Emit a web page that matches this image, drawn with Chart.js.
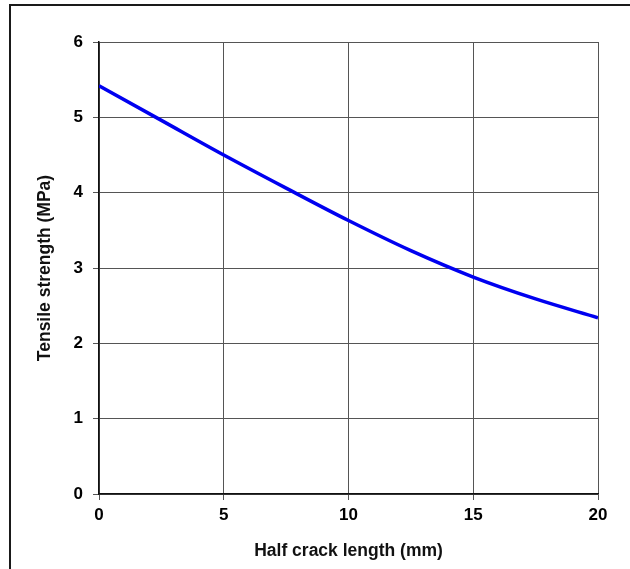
<!DOCTYPE html>
<html>
<head>
<meta charset="utf-8">
<script src="https://cdn.jsdelivr.net/npm/chart.js@4/dist/chart.umd.min.js"></script>
<style>
  html, body { margin: 0; padding: 0; background: #fff; width: 630px; height: 569px; overflow: hidden; }
  #frame { position: absolute; left: 9px; top: 4px; width: 700px; height: 700px;
           border-top: 2px solid #1a1a1a; border-left: 2px solid #1a1a1a; box-sizing: border-box; }
  #wrap { position: absolute; left: 0; top: 0; width: 630px; height: 569px; }
</style>
</head>
<body>
<div id="frame"></div>
<div id="wrap"><canvas id="c" width="630" height="569"></canvas></div>
<script>
// Half crack length (mm)
const crackLength = [0, 2.5, 5, 7.5, 10, 12.5, 15, 17.5, 20];
// Tensile strength (MPa)
const tensileStrength = [5.42, 4.96, 4.50, 4.06, 3.63, 3.23, 2.88, 2.59, 2.34];
const xTicks = [0, 5, 10, 15, 20];
const yTicks = [0, 1, 2, 3, 4, 5, 6];
const xTitle = 'Half crack length (mm)';
const yTitle = 'Tensile strength (MPa)';

const points = crackLength.map((x, i) => ({ x: x, y: tensileStrength[i] }));
const FONT = "'Liberation Sans', Arial, sans-serif";

new Chart(document.getElementById('c'), {
  type: 'line',
  data: {
    datasets: [{
      data: points,
      borderColor: '#0000f0',
      borderWidth: 3.5,
      pointRadius: 0,
      cubicInterpolationMode: 'monotone',
      fill: false
    }]
  },
  options: {
    responsive: false,
    animation: false,
    devicePixelRatio: 1,
    layout: { padding: { left: 0, top: 42, right: 32, bottom: 0 } },
    plugins: { legend: { display: false }, tooltip: { enabled: false } },
    scales: {
      x: {
        type: 'linear', min: 0, max: 20,
        afterBuildTicks: (s) => { s.ticks = xTicks.map(v => ({ value: v })); },
        afterFit: (s) => { s.height = 75; },
        grid: { color: '#555', lineWidth: 1, tickLength: 6, tickColor: '#555' },
        border: { color: '#111', width: 1.5 },
        ticks: { color: '#000', padding: 5, font: { family: FONT, size: 17, weight: 'bold' } },
        title: { display: true, text: xTitle, color: '#111', padding: { top: 0, bottom: 7 },
                 font: { family: FONT, size: 17.5, weight: 'bold' } }
      },
      y: {
        type: 'linear', min: 0, max: 6,
        afterBuildTicks: (s) => { s.ticks = yTicks.map(v => ({ value: v })); },
        afterFit: (s) => { s.width = 99; },
        grid: { color: '#555', lineWidth: 1, tickLength: 6, tickColor: '#555' },
        border: { color: '#111', width: 1.5 },
        ticks: { color: '#000', padding: 10, font: { family: FONT, size: 17, weight: 'bold' } },
        title: { display: true, text: yTitle, color: '#111', padding: { top: 35, bottom: 0 },
                 font: { family: FONT, size: 17.5, weight: 'bold' } }
      }
    }
  }
});
</script>
</body>
</html>
